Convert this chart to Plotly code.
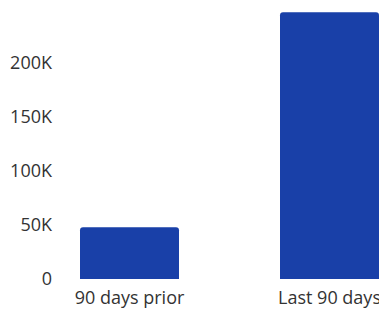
import plotly.graph_objects as go

categories = ["90 days prior", "Last 90 days"]
values = [48000, 247000]
tick_vals = [0, 50000, 100000, 150000, 200000]
tick_text = ["0", "50K", "100K", "150K", "200K"]

fig = go.Figure(go.Bar(
    x=categories, y=values,
    marker=dict(color="#1940A8", line=dict(width=0), cornerradius=3),
    width=0.495,
))
fig.update_layout(
    width=379, height=312,
    margin=dict(l=60, r=0, t=10, b=33),
    paper_bgcolor="white", plot_bgcolor="white",
    font=dict(family="Open Sans", size=18, color="#333333"),
    showlegend=False,
)
fig.update_xaxes(range=[-0.3475, 1.2475], showgrid=False, zeroline=False,
                 showline=False, ticks="", automargin=False,
                 ticklabelstandoff=6,
                 tickfont=dict(size=18, color="#333333"))
fig.update_yaxes(range=[0, 249000], tickvals=tick_vals, ticktext=tick_text,
                 showgrid=False, zeroline=False, showline=False, ticks="",
                 ticklabelstandoff=7, automargin=False,
                 tickfont=dict(size=18, color="#333333"))
fig.write_html("out.html",
               config={"displayModeBar": False},
               post_script="document.body.style.margin='0';document.body.style.overflow='hidden';")
